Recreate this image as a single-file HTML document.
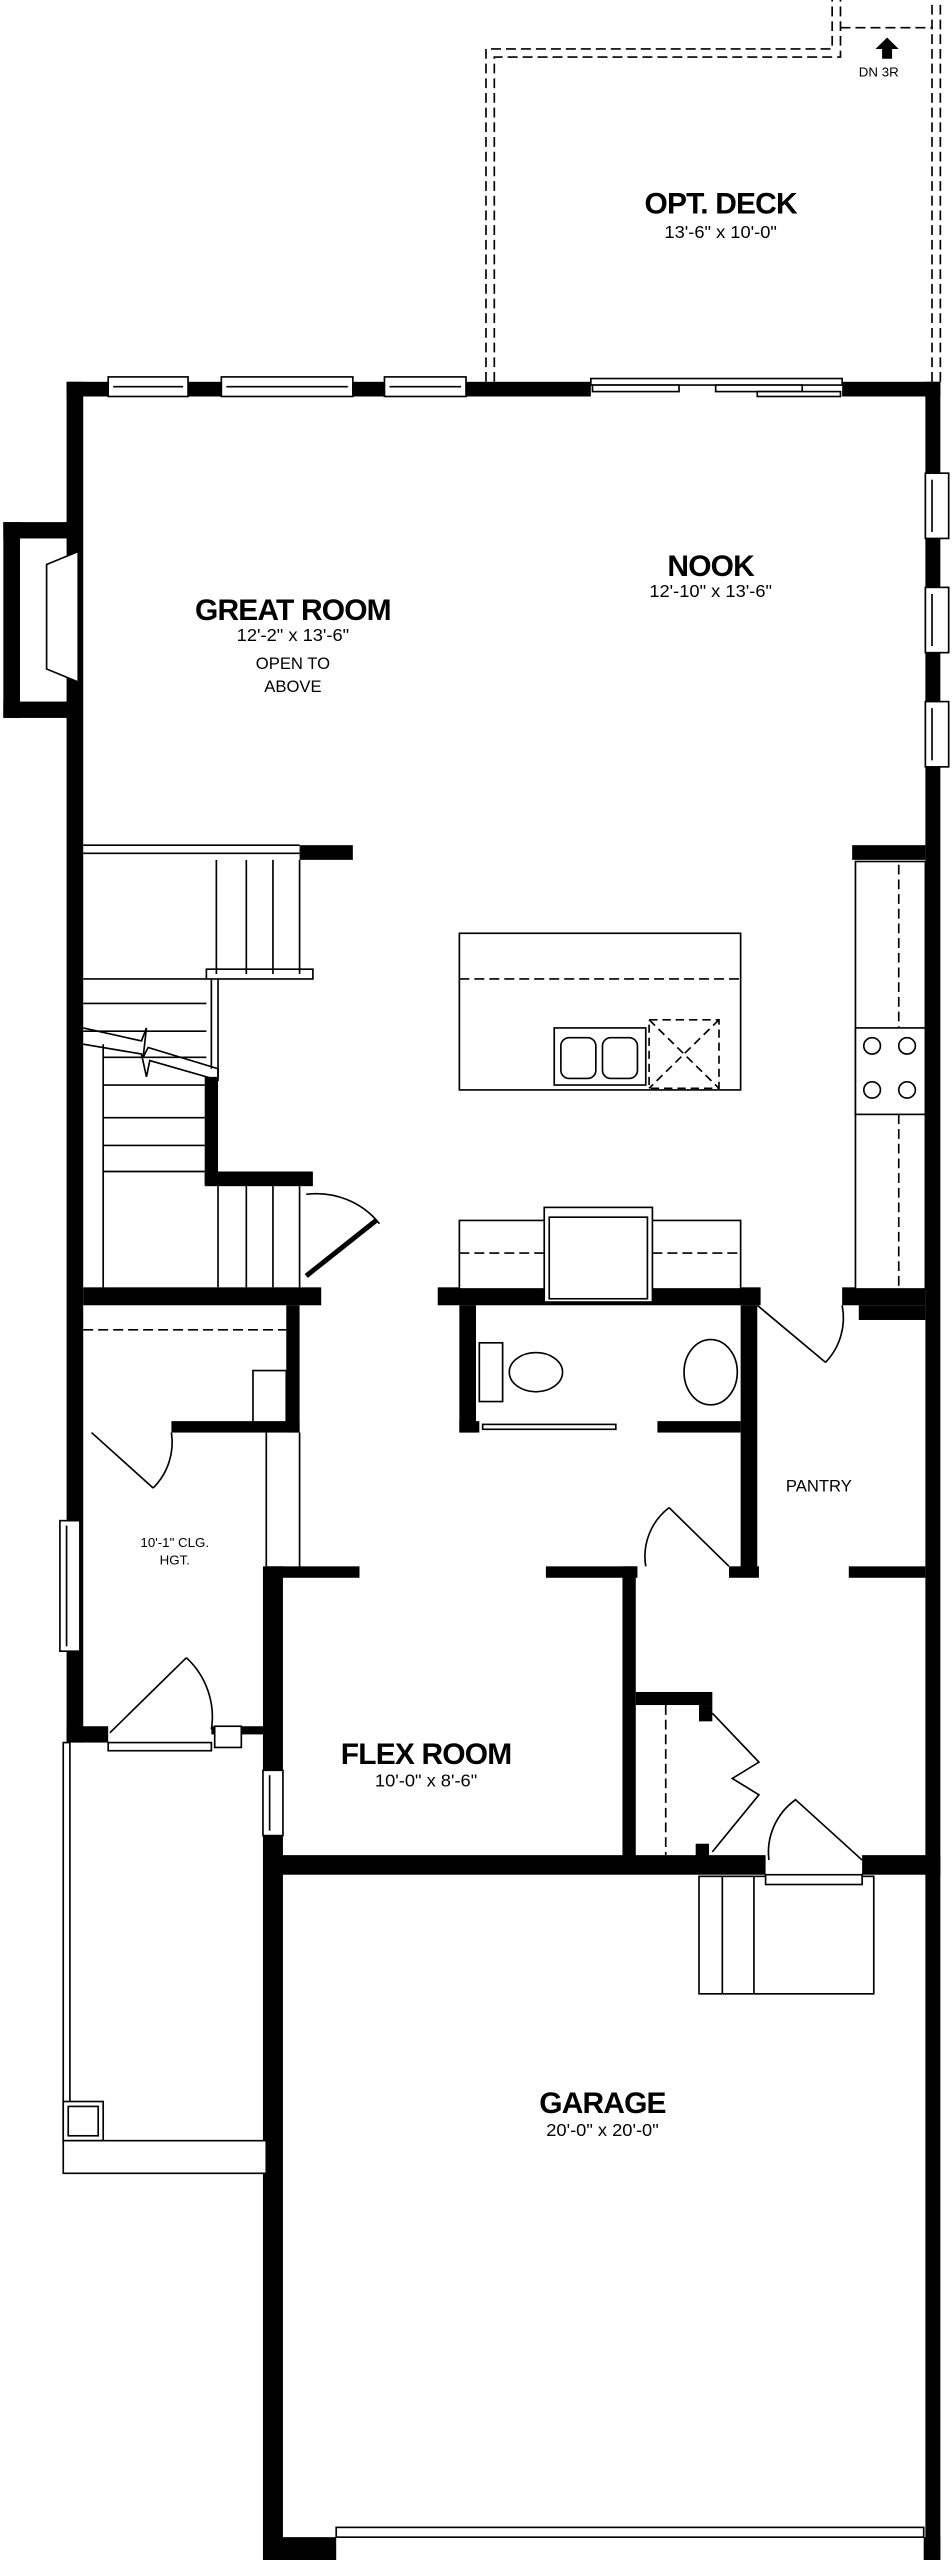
<!DOCTYPE html>
<html><head><meta charset="utf-8"><style>
html,body{margin:0;padding:0;background:#fff;}
svg{display:block;}
text{font-family:"Liberation Sans",sans-serif;fill:#000;text-anchor:middle;}
</style></head><body>
<svg width="952" height="2560" viewBox="0 0 572 1569" preserveAspectRatio="none" xmlns="http://www.w3.org/2000/svg">
<rect width="572" height="1569" fill="#fff"/>
<g fill="none" stroke="#000" stroke-width="1" stroke-dasharray="6,3">
<path d="M292 234 V30 H500 V0"/><path d="M297 234 V35 H505 V0"/>
<path d="M565 234 V0"/><path d="M560 234 V0"/>
<path d="M505 17 H560"/>
</g>
<path d="M526 30 L533 23 L540 30 L536 30 L536 36 L530 36 L530 30Z" fill="#000"/>
<text x="528" y="47" font-size="8">DN 3R</text>
<g fill="#000">
<!-- top wall -->
<rect x="40" y="234" width="315" height="9"/>
<rect x="506" y="234" width="59" height="9"/>
<!-- left wall -->
<rect x="40" y="234" width="10" height="834"/>
<!-- fireplace bump -->
<rect x="2" y="320" width="40" height="10"/><rect x="2" y="430" width="40" height="10"/><rect x="2" y="320" width="10" height="120"/>
<!-- right wall -->
<rect x="556" y="234" width="9" height="1335"/>
<!-- stairs top wall -->
<rect x="180" y="518" width="32" height="9"/>
<rect x="512" y="518" width="44" height="9"/>
<!-- stair wall -->
<rect x="123" y="660" width="8" height="66"/>
<rect x="123" y="718" width="65" height="9"/>
<rect x="50" y="789" width="143" height="11"/>
<rect x="172" y="800" width="8" height="78"/>
<rect x="103" y="871" width="77" height="7"/>
<!-- kitchen/powder -->
<rect x="263" y="789" width="194" height="11"/>
<rect x="276" y="800" width="10" height="78"/>
<rect x="276" y="871" width="12" height="7"/>
<rect x="395" y="871" width="50" height="7"/>
<rect x="445" y="800" width="10" height="166"/>
<rect x="438" y="960" width="18" height="7"/>
<rect x="506" y="789" width="50" height="11"/>
<rect x="516" y="800" width="40" height="9"/>
<rect x="510" y="960" width="46" height="7"/>
<!-- flex -->
<rect x="160" y="960" width="56" height="7"/>
<rect x="328" y="960" width="55" height="7"/>
<rect x="158" y="960" width="12" height="609"/>
<rect x="374" y="960" width="8" height="180"/>
<rect x="382" y="1037" width="46" height="8"/>
<rect x="420" y="1045" width="8" height="10"/>
<!-- garage top -->
<rect x="160" y="1137" width="300" height="12"/>
<rect x="518" y="1137" width="47" height="12"/>
<rect x="418" y="1130" width="8" height="10"/>
<!-- entry -->
<rect x="40" y="1058" width="25" height="10"/>
<rect x="127" y="1058" width="31" height="5"/>
<!-- garage bottom -->
<rect x="160" y="1555" width="42" height="14"/>
<rect x="555" y="1555" width="10" height="14"/>
</g>
<g fill="#fff" stroke="#000" stroke-width="1">
<!-- top windows -->
<rect x="65" y="231" width="48" height="12"/><line x1="68" y1="237" x2="110" y2="237"/>
<rect x="133" y="231" width="79" height="12"/><line x1="136" y1="237" x2="209" y2="237"/>
<rect x="231" y="231" width="49" height="12"/><line x1="234" y1="237" x2="277" y2="237"/>
<!-- slider -->
<rect x="355" y="232" width="151" height="4"/>
<rect x="356" y="236" width="52" height="4"/><rect x="430" y="236" width="52" height="4"/><rect x="455" y="240" width="50" height="3"/>
<!-- right windows -->
<rect x="556" y="290" width="14" height="40"/><line x1="560" y1="294" x2="560" y2="326"/>
<rect x="556" y="360" width="14" height="40"/><line x1="560" y1="364" x2="560" y2="396"/>
<rect x="556" y="430" width="14" height="40"/><line x1="560" y1="434" x2="560" y2="466"/>
<!-- fireplace -->
<path d="M28 346 L47 338 L47 418 L28 410Z"/>
<!-- left windows -->
<rect x="36" y="932" width="12" height="80"/><line x1="40" y1="935" x2="40" y2="1009"/>
<rect x="158" y="1085" width="12" height="40"/><line x1="162" y1="1088" x2="162" y2="1122"/>
<!-- counters -->
<rect x="276" y="572" width="169" height="96"/>
<rect x="276" y="748" width="169" height="42"/>
<rect x="327" y="740" width="65" height="58"/><rect x="330" y="746" width="59" height="50"/>
<rect x="514" y="528" width="42" height="262"/>
<rect x="514" y="630" width="42" height="53"/>
<circle cx="524" cy="641" r="5"/><circle cx="545" cy="641" r="5"/><circle cx="524" cy="668" r="5"/><circle cx="545" cy="668" r="5"/>
<rect x="333" y="630" width="55" height="35"/>
<rect x="337" y="636" width="21" height="25" rx="5"/><rect x="362" y="636" width="21" height="25" rx="5"/>
<!-- powder -->
<rect x="288" y="823" width="14" height="36"/>
<ellipse cx="322" cy="841" rx="16" ry="12"/>
<ellipse cx="427" cy="841" rx="16" ry="20"/>
<rect x="290" y="873" width="80" height="3"/>
<!-- garage steps -->
<rect x="420" y="1150" width="105" height="72"/>
<line x1="434" y1="1150" x2="434" y2="1222"/><line x1="453" y1="1150" x2="453" y2="1222"/>
<rect x="460" y="1149" width="58" height="6"/>
<!-- porch -->
<rect x="38" y="1068" width="4" height="244"/>
<rect x="38" y="1288" width="24" height="24"/><rect x="41" y="1291" width="18" height="18"/>
<rect x="38" y="1312" width="122" height="20"/>
<rect x="65" y="1068" width="62" height="5"/>
<rect x="129" y="1058" width="16" height="13"/>
<!-- garage door -->
<rect x="202" y="1549" width="353" height="6"/>
</g>
<g fill="none" stroke="#000" stroke-width="1">
<line x1="276" y1="600" x2="445" y2="600" stroke-dasharray="6,3"/>
<rect x="390" y="625" width="42" height="42" stroke-dasharray="5,3"/>
<line x1="390" y1="625" x2="432" y2="667" stroke-dasharray="5,3"/><line x1="432" y1="625" x2="390" y2="667" stroke-dasharray="5,3"/>
<line x1="276" y1="768" x2="327" y2="768" stroke-dasharray="6,3"/><line x1="392" y1="768" x2="445" y2="768" stroke-dasharray="6,3"/>
<line x1="540" y1="530" x2="540" y2="630" stroke-dasharray="6,3"/><line x1="540" y1="683" x2="540" y2="788" stroke-dasharray="6,3"/>
<line x1="50" y1="815" x2="172" y2="815" stroke-dasharray="6,3"/>
<line x1="400" y1="1045" x2="400" y2="1137" stroke-dasharray="6,3"/>
<!-- stairs -->
<line x1="50" y1="518" x2="180" y2="518"/><line x1="50" y1="523" x2="180" y2="523"/>
<line x1="130" y1="527" x2="130" y2="597"/><line x1="148" y1="527" x2="148" y2="597"/><line x1="164" y1="527" x2="164" y2="597"/><line x1="180" y1="527" x2="180" y2="597"/>
<rect x="124" y="594" width="64" height="6"/>
<line x1="50" y1="600" x2="124" y2="600"/><line x1="50" y1="615" x2="124" y2="615"/><line x1="50" y1="632" x2="124" y2="632"/><line x1="62" y1="648" x2="124" y2="648"/>
<line x1="62" y1="665" x2="123" y2="665"/><line x1="62" y1="685" x2="123" y2="685"/><line x1="62" y1="702" x2="123" y2="702"/><line x1="62" y1="718" x2="123" y2="718"/>
<line x1="62" y1="640" x2="62" y2="789"/>
<line x1="127" y1="600" x2="127" y2="655"/><line x1="131" y1="600" x2="131" y2="660"/>
<path d="M50 630 L85 638 L88 630 L86 648 L89 642 L131 655 L131 662 L90 650 L88 660 L85 646 L50 640"/>
<line x1="131" y1="727" x2="131" y2="789"/><line x1="148" y1="727" x2="148" y2="789"/><line x1="164" y1="727" x2="164" y2="789"/><line x1="180" y1="727" x2="180" y2="789"/>
<!-- doors -->
<path d="M184 732 A48 48 0 0 1 228 750"/><line x1="184" y1="782" x2="226" y2="748" stroke-width="3"/>
<path d="M455 800 L496 835"/><path d="M496 835 A40 40 0 0 0 506 800"/>
<path d="M55 878 L92 912"/><path d="M92 912 A40 40 0 0 0 103 878"/>
<path d="M438 960 L402 924"/><path d="M402 924 A38 38 0 0 0 388 960"/>
<path d="M66 1062 L112 1016"/><path d="M112 1016 A50 50 0 0 1 127 1060"/>
<path d="M428 1050 L456 1080 L440 1090 L456 1100 L428 1135"/>
<path d="M462 1140 A40 40 0 0 1 478 1103 L518 1140"/>
<line x1="180" y1="878" x2="180" y2="960"/><line x1="160" y1="878" x2="160" y2="960"/>
<rect x="152" y="840" width="20" height="32"/>
</g>
<text x="176" y="380" font-size="18" font-weight="bold" letter-spacing="-0.5">GREAT ROOM</text>
<text x="176" y="393" font-size="11">12'-2" x 13'-6"</text>
<text x="176" y="410" font-size="10">OPEN TO</text>
<text x="176" y="424" font-size="10">ABOVE</text>
<text x="433" y="131" font-size="18" font-weight="bold" letter-spacing="-0.5">OPT. DECK</text>
<text x="433" y="146" font-size="11">13'-6" x 10'-0"</text>
<text x="427" y="353" font-size="18" font-weight="bold" letter-spacing="-0.5">NOOK</text>
<text x="427" y="366" font-size="11">12'-10" x 13'-6"</text>
<text x="492" y="914" font-size="10">PANTRY</text>
<text x="105" y="948" font-size="8">10'-1" CLG.</text>
<text x="105" y="959" font-size="8">HGT.</text>
<text x="256" y="1081" font-size="18" font-weight="bold" letter-spacing="-0.5">FLEX ROOM</text>
<text x="256" y="1095" font-size="11">10'-0" x 8'-6"</text>
<text x="362" y="1295" font-size="18" font-weight="bold" letter-spacing="-0.5">GARAGE</text>
<text x="362" y="1309" font-size="11">20'-0" x 20'-0"</text>
</svg>
</body></html>
